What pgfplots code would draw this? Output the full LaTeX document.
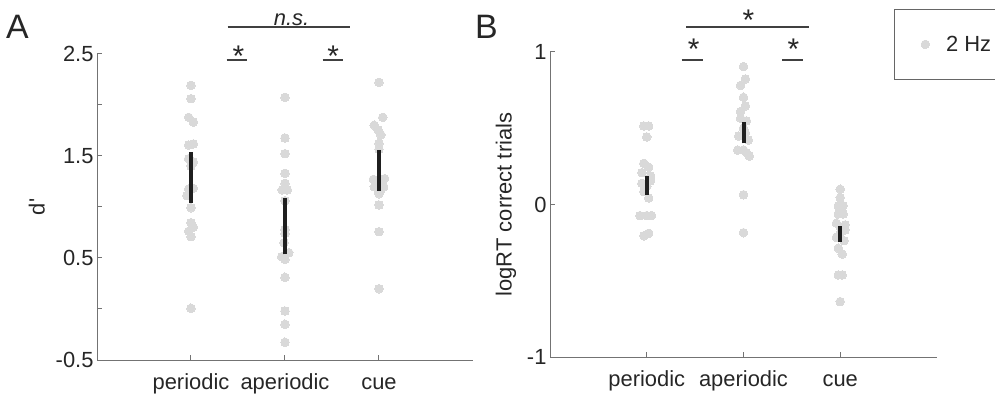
\documentclass[border=0pt]{standalone}
\usepackage{fontspec}
\setmainfont{Liberation Sans}
\usepackage{pgfplots}
\pgfplotsset{compat=1.18}
\definecolor{dotgray}{rgb}{0.85,0.85,0.85}
\definecolor{axgray}{rgb}{0.45,0.45,0.45}
\definecolor{txt}{rgb}{0.15,0.15,0.15}
\newcommand\fs{\fontsize{22}{26}\selectfont}
\newcommand\fa{\fontsize{30}{34}\selectfont}
\tikzset{sig/.style={line width=1.5bp, color=black!75}}
\pgfplotsset{
  myaxis/.style={
    scale only axis,
    clip mode=individual,
    axis x line=bottom, axis y line=left,
    axis line style={axgray, line width=1bp, -},
    tick style={axgray, line width=1bp},
    tick align=inside,
    major tick length=5bp, minor tick length=5bp,
    xmin=0, xmax=4,
    xtick={1,2,3}, xticklabels={periodic,aperiodic,cue},
    tick label style={font=\fs, text=txt},
    xticklabel style={anchor=base, yshift=-29bp},
    label style={font=\fs, text=txt},
    clip=false,
    anchor=south west,
  },
  dots/.style={only marks, mark=*, mark size=4.3bp, mark options={fill=dotgray, draw=dotgray, line width=0pt}},
  sebar/.style={line width=4bp, color=black!88, forget plot},
}
\begin{document}
\begin{tikzpicture}
% ---------------- Panel A ----------------
\begin{axis}[myaxis,
  at={(97bp,35bp)}, width=376bp, height=306bp,
  ymin=-0.5, ymax=2.5,
  ytick={-0.5,0.5,1.5,2.5}, yticklabels={-0.5,0.5,1.5,2.5},
  minor ytick={0,1,2},
  ylabel={d\textquotesingle},
  ylabel style={at={(axis description cs:-0.16,0.5)}, anchor=center},
]
\addplot[dots] table {
x y
1.000 2.193
1.000 2.062
0.975 1.879
1.025 1.833
0.975 1.608
1.025 1.618
0.975 1.474
1.025 1.441
1.000 1.402
1.025 1.183
0.975 1.176
0.955 1.111
1.000 0.993
1.000 0.846
1.025 0.801
0.975 0.762
1.000 0.709
1.000 0.007
2.000 2.075
2.000 1.676
2.000 1.523
2.000 1.330
2.000 1.232
1.970 1.167
2.025 1.167
2.000 1.062
2.000 0.781
2.000 0.742
1.990 0.650
2.040 0.552
1.965 0.513
2.000 0.487
2.000 0.311
2.000 -0.020
2.000 -0.150
2.000 -0.326
3.000 2.222
3.040 1.879
2.950 1.801
2.990 1.755
3.020 1.706
3.000 1.624
3.000 1.566
2.940 1.271
3.060 1.278
2.950 1.199
3.050 1.199
2.980 1.240
3.020 1.170
3.000 1.130
3.000 1.147
3.000 1.020
3.000 0.758
3.000 0.199
};
\addplot[sebar] coordinates {(1,1.036) (1,1.542)};
\addplot[sebar] coordinates {(2,0.536) (2,1.091)};
\addplot[sebar] coordinates {(3,1.160) (3,1.559)};
% significance
\draw[sig] (axis cs:1.38,2.441) -- (axis cs:1.60,2.441);
\draw[sig] (axis cs:2.40,2.441) -- (axis cs:2.62,2.441);
\draw[sig] (axis cs:1.39,2.765) -- (axis cs:2.69,2.765);
\node[font=\fa, text=txt, anchor=base, inner sep=0] at (axis cs:1.505,2.373) {*};
\node[font=\fa, text=txt, anchor=base, inner sep=0] at (axis cs:2.513,2.373) {*};
\node[font=\fs\itshape, text=txt, anchor=base, inner sep=0] at (axis cs:2.07,2.784) {n.s.};
\end{axis}
% ---------------- Panel B ----------------
\begin{axis}[myaxis,
  at={(550bp,38bp)}, width=387bp, height=305bp,
  ymin=-1, ymax=1,
  ytick={-1,0,1}, yticklabels={-1,0,1},
  ylabel={logRT correct trials},
  ylabel style={at={(axis description cs:-0.114,0.5)}, anchor=center},
  legend style={at={(0.889,1.141)}, anchor=north west, draw=black!60,
    line width=1bp, inner xsep=26.5bp, inner ysep=24.5bp, font=\fs,
    text=txt, column sep=14.5bp},
]
\addplot[dots] table {
x y
0.970 0.515
1.020 0.515
1.000 0.443
0.970 0.270
1.020 0.244
0.950 0.209
1.040 0.187
1.040 0.156
0.950 0.139
1.000 0.120
0.970 0.084
1.020 0.043
0.930 -0.073
1.000 -0.073
1.050 -0.073
1.020 -0.189
0.970 -0.205
2.000 0.904
2.020 0.823
1.970 0.781
2.000 0.703
2.020 0.646
1.970 0.609
1.970 0.565
2.030 0.548
2.000 0.500
2.020 0.470
1.950 0.449
2.050 0.423
1.940 0.357
2.000 0.357
2.030 0.340
2.060 0.318
2.000 0.064
2.000 -0.185
3.000 0.100
3.000 0.045
2.980 -0.008
3.030 -0.008
2.980 -0.062
3.030 -0.062
2.960 -0.123
3.050 -0.134
3.000 -0.150
3.050 -0.167
3.000 -0.190
2.960 -0.215
3.040 -0.237
2.980 -0.287
3.020 -0.325
2.980 -0.462
3.020 -0.462
3.000 -0.637
};
\addlegendentry{2 Hz}
\addplot[sebar] coordinates {(1,0.062) (1,0.187)};
\addplot[sebar] coordinates {(2,0.401) (2,0.543)};
\addplot[sebar] coordinates {(3,-0.248) (3,-0.141)};
% significance
\draw[sig] (axis cs:1.36,0.948) -- (axis cs:1.58,0.948);
\draw[sig] (axis cs:2.40,0.948) -- (axis cs:2.62,0.948);
\draw[sig] (axis cs:1.41,1.164) -- (axis cs:2.68,1.164);
\node[font=\fa, text=txt, anchor=base, inner sep=0] at (axis cs:1.485,0.948) {*};
\node[font=\fa, text=txt, anchor=base, inner sep=0] at (axis cs:2.515,0.948) {*};
\node[font=\fa, text=txt, anchor=base, inner sep=0] at (axis cs:2.05,1.144) {*};
\end{axis}
% panel letters
\node[anchor=base west, font=\fontsize{34}{38}\selectfont, text=txt, inner sep=0] at (6bp,356bp) {A};
\node[anchor=base west, font=\fontsize{34}{38}\selectfont, text=txt, inner sep=0] at (475bp,356bp) {B};
\pgfresetboundingbox
\useasboundingbox (0,0) rectangle (995bp,395bp);
\end{tikzpicture}
\end{document}
